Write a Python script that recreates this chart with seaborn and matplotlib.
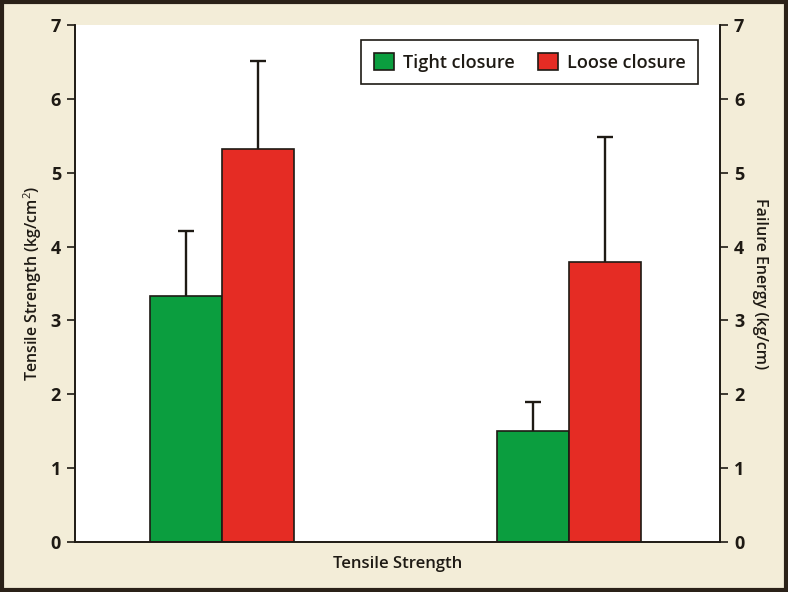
import matplotlib
matplotlib.use("Agg")
import matplotlib.pyplot as plt
import seaborn as sns
import pandas as pd

measures = ["Tensile Strength", "Failure Energy"]
closures = ["Tight closure", "Loose closure"]
tight_means = [3.33, 1.50]
loose_means = [5.32, 3.79]
tight_err = [0.88, 0.40]
loose_err = [1.19, 1.69]
yticks = [0, 1, 2, 3, 4, 5, 6, 7]

df = pd.DataFrame({
    "measure": measures * 2,
    "closure": [closures[0]] * 2 + [closures[1]] * 2,
    "value": tight_means + loose_means,
    "err": tight_err + loose_err,
})

sns.set_style("white")
plt.rcParams["font.family"] = ["Open Sans", "DejaVu Sans"]
plt.rcParams["mathtext.fontset"] = "custom"
plt.rcParams["mathtext.rm"] = "Open Sans"
plt.rcParams["mathtext.it"] = "Open Sans"

BG = "#f3edd8"
INK = "#1e1a14"
fig = plt.figure(figsize=(7.88, 5.92), dpi=100, facecolor=BG)
ax = fig.add_axes([75/788, 50/592, 645/788, 517/592])
ax.set_facecolor("white")

palette = {"Tight closure": "#0b9e3f", "Loose closure": "#e52c24"}
sns.barplot(data=df, x="measure", y="value", hue="closure", order=measures,
            hue_order=closures, palette=palette, width=0.415, gap=0,
            errorbar=None, edgecolor=INK, linewidth=1.2, saturation=1, ax=ax,
            zorder=2)

errs = {closures[0]: tight_err, closures[1]: loose_err}
for cont, name in zip(ax.containers, closures):
    for bar, e in zip(cont, errs[name]):
        xc = bar.get_x() + bar.get_width() / 2
        top = bar.get_height()
        _, caps, _ = ax.errorbar([xc], [top], yerr=[[0], [e]], fmt="none",
                                 ecolor=INK, elinewidth=1.7, capsize=5.5,
                                 capthick=1.7, zorder=1)
        caps[0].set_visible(False)

ax.set_xlim(-0.424, 1.435)
ax.set_ylim(0, 7)
ax.set_yticks(yticks)
ax.set_xticks([])
ax.set_xlabel("Tensile Strength", fontsize=12, fontweight="semibold", color=INK, labelpad=10)
ax.set_ylabel("Tensile Strength (kg/cm$^2$)", fontsize=11.5, fontweight="semibold", color=INK, labelpad=5)
ax.tick_params(axis="y", direction="out", length=6, width=1.2, color=INK,
               labelsize=13, labelcolor=INK, pad=4, left=True)
for lab in ax.get_yticklabels():
    lab.set_fontweight("bold")

ax2 = ax.twinx()
ax2.set_ylim(0, 7)
ax2.set_yticks(yticks)
ax2.set_ylabel("Failure Energy (kg/cm)", fontsize=11.5, fontweight="semibold", color=INK,
               rotation=270, labelpad=17)
ax2.tick_params(axis="y", direction="out", length=6, width=1.2, color=INK,
                labelsize=13, labelcolor=INK, pad=4, right=True)
for lab in ax2.get_yticklabels():
    lab.set_fontweight("bold")

for a in (ax, ax2):
    a.spines["top"].set_visible(False)
    for s in ("left", "right", "bottom"):
        a.spines[s].set_color(INK)
        a.spines[s].set_linewidth(1.2)

handles, labels = ax.get_legend_handles_labels()
if ax.legend_:
    ax.legend_.remove()
leg = ax2.legend(handles, labels, loc="upper right", ncol=2, frameon=True,
                 fancybox=False, edgecolor=INK, framealpha=1,
                 bbox_to_anchor=(0.980, 0.988),
                 prop={"size": 13, "weight": "semibold"},
                 handlelength=1.1, handleheight=1.1, handletextpad=0.5,
                 columnspacing=1.3, borderpad=0.7)
leg.get_frame().set_linewidth(1.2)
for t in leg.get_texts():
    t.set_color(INK)

border = plt.Rectangle((0.002, 0.003), 0.996, 0.994, transform=fig.transFigure,
                       fill=False, edgecolor="#2a2118", linewidth=3, zorder=10)
fig.patches.append(border)

fig.savefig("out.png", dpi=100, facecolor=BG)
